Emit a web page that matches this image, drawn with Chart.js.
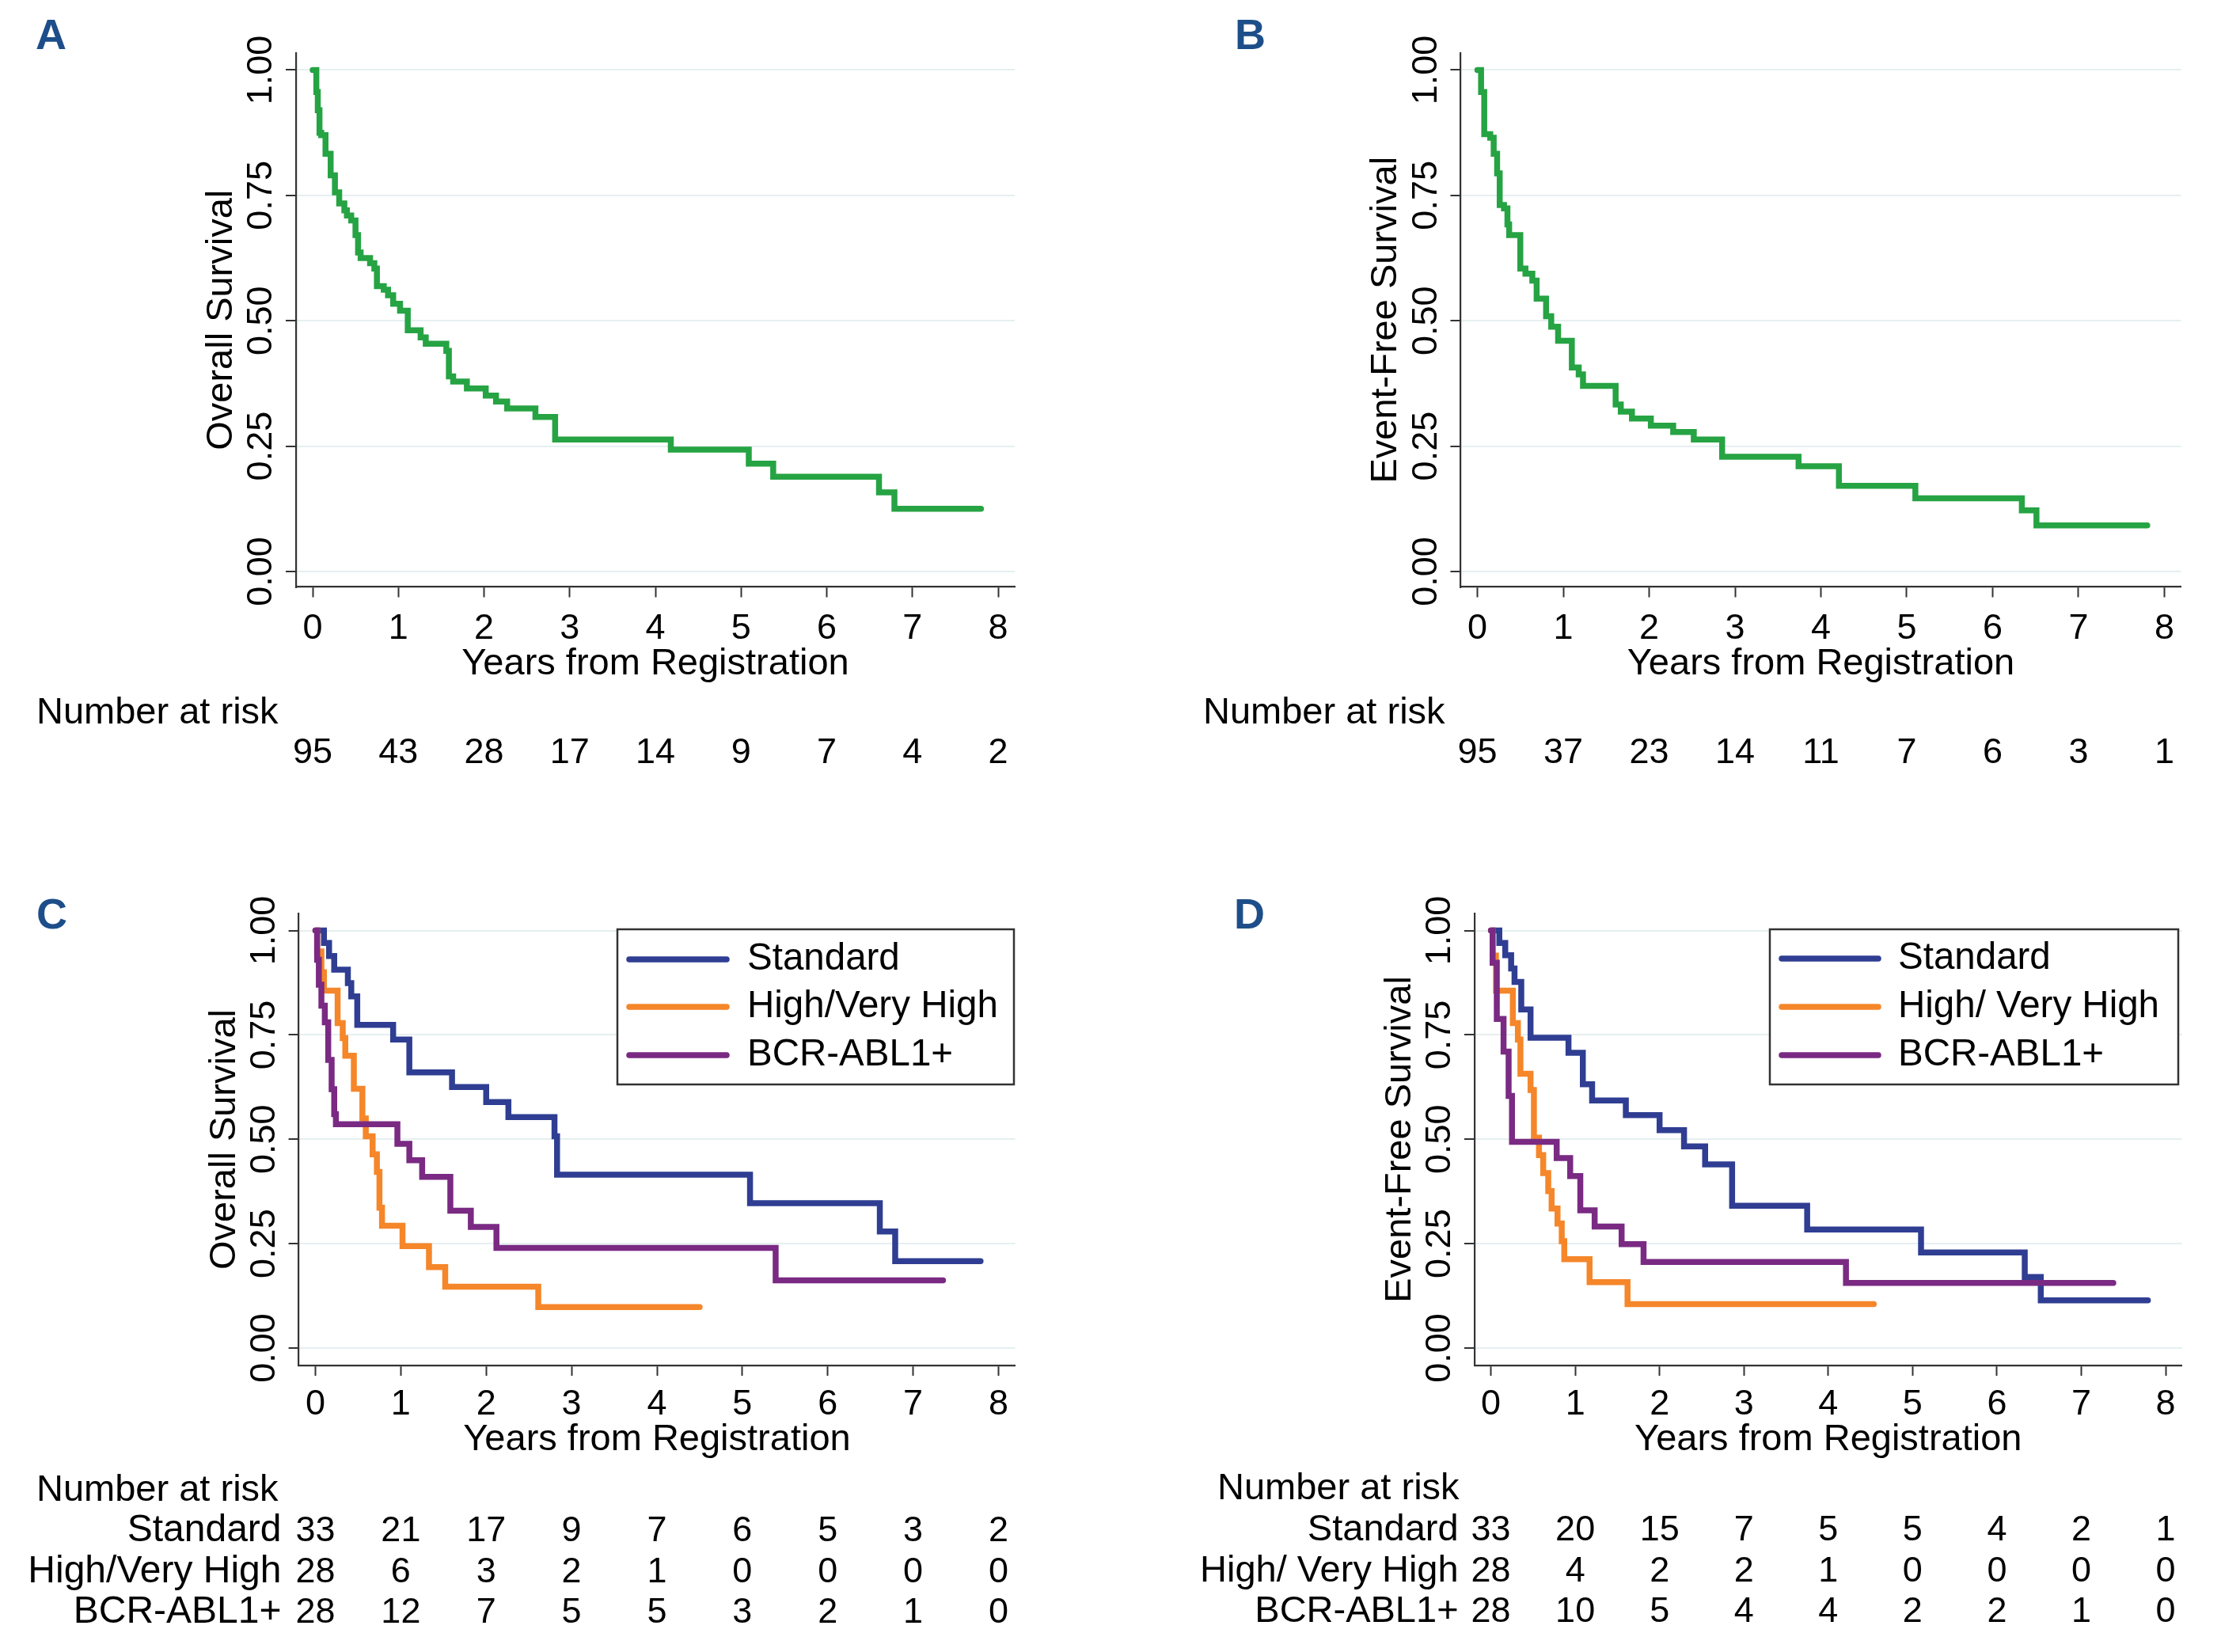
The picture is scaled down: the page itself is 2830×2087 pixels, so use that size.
<!DOCTYPE html>
<html><head><meta charset="utf-8"><title>Kaplan-Meier curves</title>
<script src="https://cdn.jsdelivr.net/npm/chart.js@4.4.1/dist/chart.umd.min.js"></script>
<style>
html,body{margin:0;padding:0;background:#fff}
body{width:2830px;height:2087px;position:relative;overflow:hidden}
canvas{position:absolute}
</style></head><body>
<canvas id="cA" width="1415" height="1080" style="left:0;top:0;width:1415px;height:1080px"></canvas>
<canvas id="cB" width="1415" height="1080" style="left:1415px;top:0;width:1415px;height:1080px"></canvas>
<canvas id="cC" width="1415" height="1007" style="left:0;top:1080px;width:1415px;height:1007px"></canvas>
<canvas id="cD" width="1415" height="1007" style="left:1415px;top:1080px;width:1415px;height:1007px"></canvas>
<script>
// ---------------- data ----------------
const xTickValues = [0, 1, 2, 3, 4, 5, 6, 7, 8];
const yTickValues = [0, 0.25, 0.5, 0.75, 1];
const riskTimes = [0, 1, 2, 3, 4, 5, 6, 7, 8];

// Panel A: overall survival, all patients
const timeA = [0, 0.043, 0.06, 0.08, 0.10, 0.15, 0.21, 0.26, 0.31, 0.37, 0.40, 0.45, 0.50, 0.53, 0.56, 0.67, 0.72, 0.75, 0.83, 0.88, 0.94, 1.02, 1.11, 1.26, 1.32, 1.56, 1.59, 1.64, 1.80, 2.02, 2.14, 2.27, 2.60, 2.83, 4.18, 5.09, 5.375, 6.61, 6.79, 7.80];
const survA = [1, 0.956, 0.92, 0.875, 0.870, 0.833, 0.790, 0.756, 0.734, 0.720, 0.710, 0.700, 0.671, 0.636, 0.625, 0.615, 0.604, 0.569, 0.562, 0.551, 0.534, 0.520, 0.481, 0.467, 0.454, 0.440, 0.389, 0.379, 0.365, 0.351, 0.339, 0.325, 0.308, 0.263, 0.243, 0.215, 0.189, 0.158, 0.125, 0.125];
const riskA = [95, 43, 28, 17, 14, 9, 7, 4, 2];

// Panel B: event-free survival, all patients
const timeB = [0, 0.043, 0.08, 0.15, 0.19, 0.23, 0.26, 0.31, 0.35, 0.37, 0.50, 0.56, 0.64, 0.69, 0.80, 0.86, 0.94, 1.10, 1.18, 1.23, 1.61, 1.67, 1.80, 2.02, 2.28, 2.52, 2.85, 3.74, 4.21, 5.10, 6.34, 6.51, 7.80];
const survB = [1, 0.956, 0.872, 0.865, 0.833, 0.794, 0.731, 0.724, 0.692, 0.671, 0.604, 0.594, 0.580, 0.544, 0.509, 0.488, 0.460, 0.407, 0.393, 0.370, 0.333, 0.319, 0.305, 0.291, 0.278, 0.263, 0.229, 0.210, 0.171, 0.146, 0.122, 0.092, 0.092];
const riskB = [95, 37, 23, 14, 11, 7, 6, 3, 1];

// Panel C: overall survival by risk group
const groupLabelsC = ['Standard', 'High/Very High', 'BCR-ABL1+'];
const timeCStd = [0, 0.10, 0.16, 0.22, 0.38, 0.42, 0.49, 0.91, 1.10, 1.60, 2.00, 2.26, 2.80, 2.83, 5.09, 6.61, 6.79, 7.79];
const survCStd = [1, 0.970, 0.939, 0.906, 0.874, 0.842, 0.774, 0.739, 0.660, 0.625, 0.589, 0.553, 0.507, 0.415, 0.347, 0.279, 0.208, 0.208];
const timeCHigh = [0, 0.02, 0.07, 0.10, 0.26, 0.32, 0.35, 0.45, 0.55, 0.59, 0.67, 0.72, 0.75, 0.78, 1.02, 1.33, 1.52, 2.61, 4.50];
const survCHigh = [1, 0.95, 0.90, 0.856, 0.778, 0.742, 0.700, 0.621, 0.550, 0.507, 0.464, 0.422, 0.336, 0.293, 0.244, 0.194, 0.147, 0.098, 0.098];
const timeCBcr = [0, 0.02, 0.04, 0.07, 0.11, 0.15, 0.19, 0.22, 0.24, 0.96, 1.10, 1.25, 1.58, 1.82, 2.12, 5.39, 7.35];
const survCBcr = [1, 0.93, 0.87, 0.82, 0.78, 0.69, 0.62, 0.56, 0.536, 0.489, 0.450, 0.410, 0.329, 0.290, 0.240, 0.162, 0.162];
const riskCStd = [33, 21, 17, 9, 7, 6, 5, 3, 2];
const riskCHigh = [28, 6, 3, 2, 1, 0, 0, 0, 0];
const riskCBcr = [28, 12, 7, 5, 5, 3, 2, 1, 0];

// Panel D: event-free survival by risk group
const groupLabelsD = ['Standard', 'High/ Very High', 'BCR-ABL1+'];
const timeDStd = [0, 0.10, 0.17, 0.24, 0.28, 0.36, 0.47, 0.92, 1.09, 1.20, 1.60, 2.00, 2.29, 2.54, 2.86, 3.75, 5.10, 6.33, 6.52, 7.79];
const survDStd = [1, 0.970, 0.941, 0.909, 0.877, 0.811, 0.743, 0.707, 0.632, 0.593, 0.558, 0.522, 0.483, 0.440, 0.341, 0.284, 0.229, 0.170, 0.114, 0.114];
const timeDHigh = [0, 0.02, 0.06, 0.26, 0.32, 0.35, 0.47, 0.51, 0.57, 0.62, 0.68, 0.72, 0.79, 0.84, 0.87, 1.17, 1.62, 4.54];
const survDHigh = [1, 0.94, 0.856, 0.778, 0.739, 0.657, 0.618, 0.504, 0.462, 0.419, 0.376, 0.334, 0.298, 0.256, 0.213, 0.158, 0.105, 0.105];
const timeDBcr = [0, 0.02, 0.07, 0.15, 0.21, 0.25, 0.78, 0.94, 1.06, 1.23, 1.55, 1.81, 4.21, 7.38];
const survDBcr = [1, 0.923, 0.788, 0.710, 0.604, 0.494, 0.455, 0.412, 0.330, 0.291, 0.249, 0.206, 0.156, 0.156];
const riskDStd = [33, 20, 15, 7, 5, 5, 4, 2, 1];
const riskDHigh = [28, 4, 2, 2, 1, 0, 0, 0, 0];
const riskDBcr = [28, 10, 5, 4, 4, 2, 2, 1, 0];

// ---------------- styling ----------------
const FONT = '"Liberation Sans", Arial, Helvetica, sans-serif';
const GREEN = '#26a343', BLUE = '#2f3e92', ORANGE = '#f5862a', PURPLE = '#7a2a83';
Chart.defaults.font.family = FONT;
Chart.defaults.color = '#000';

const annotPlugin = {
  id: 'annot',
  afterDraw(chart, args, o) {
    const ctx = chart.ctx, xs = chart.scales.x;
    ctx.save();
    ctx.textBaseline = 'alphabetic';
    ctx.textAlign = 'left';
    ctx.fillStyle = '#1d4e89';
    ctx.font = 'bold 54px ' + FONT;
    ctx.fillText(o.letter, o.letterX, o.letterY);
    ctx.fillStyle = '#000';
    ctx.font = '47px ' + FONT;
    ctx.fillText('Number at risk', o.nrX, o.nrY);
    o.rows.forEach((row, r) => {
      const y = o.rowY[r];
      if (row.label) {
        ctx.font = o.labelSize + 'px ' + FONT; ctx.textAlign = 'right';
        ctx.fillText(row.label, xs.getPixelForValue(0) - o.labelGap, y);
      }
      ctx.font = '45px ' + FONT; ctx.textAlign = 'center';
      row.values.forEach((v, i) => ctx.fillText(String(v), xs.getPixelForValue(riskTimes[i]), y));
    });
    if (o.legend) {
      const L = o.legend;
      ctx.fillStyle = '#fff';
      ctx.fillRect(L.x, L.y, L.w, L.h);
      ctx.strokeStyle = '#333'; ctx.lineWidth = 2.5;
      ctx.strokeRect(L.x, L.y, L.w, L.h);
      chart.data.datasets.forEach((ds, i) => {
        const y = L.rowY[i];
        ctx.strokeStyle = ds.borderColor; ctx.lineWidth = 7.5; ctx.lineCap = 'round';
        ctx.beginPath(); ctx.moveTo(L.lx1, y); ctx.lineTo(L.lx2, y); ctx.stroke();
        ctx.fillStyle = '#000'; ctx.font = '47.5px ' + FONT;
        ctx.textAlign = 'left'; ctx.textBaseline = 'middle';
        ctx.fillText(ds.label, L.tx, y);
      });
    }
    ctx.restore();
  }
};

const XMIN = -0.194, XMAX = 8.194;

function makeKM(id, cfg) {
  const YW = 150;
  const c = document.getElementById(id);
  const W = c.width, H = c.height;
  const pp = (cfg.x8 - cfg.x0) / 8;
  const left = cfg.x0 + XMIN * pp, right = cfg.x8 + (XMAX - 8) * pp;
  return new Chart(c, {
    type: 'line',
    data: {
      datasets: cfg.series.map(s => ({
        label: s.label,
        data: s.t.map((t, i) => ({ x: t, y: s.s[i] })),
        borderColor: s.color, backgroundColor: s.color, borderWidth: 7.5,
        pointRadius: 0, pointHoverRadius: 0, stepped: 'before', fill: false,
        borderCapStyle: 'round', borderJoinStyle: 'miter', order: s.order
      }))
    },
    options: {
      responsive: false, animation: false, devicePixelRatio: 1, events: [],
      layout: { padding: { left: left - YW, right: W - right, top: cfg.top, bottom: H - cfg.bottom - cfg.xh } },
      plugins: { legend: { display: false }, tooltip: { enabled: false }, annot: cfg.annot },
      scales: {
        x: {
          type: 'linear', min: XMIN, max: XMAX,
          afterBuildTicks: s => { s.ticks = xTickValues.map(v => ({ value: v })); },
          afterFit: s => { s.height = cfg.xh; },
          grid: { display: true, drawOnChartArea: false, drawTicks: true, tickLength: 13, tickColor: '#333', tickWidth: 2 },
          border: { display: true, color: '#333', width: 2.2 },
          ticks: { autoSkip: false, maxRotation: 0, minRotation: 0, padding: cfg.tickPad, font: { size: 45 }, color: '#000', callback: v => String(v) },
          title: { display: true, text: 'Years from Registration', font: { size: 47 }, color: '#000', padding: 0 }
        },
        y: {
          type: 'linear', min: cfg.ymin, max: cfg.ymax,
          afterBuildTicks: s => { s.ticks = yTickValues.map(v => ({ value: v })); },
          afterFit: s => { s.width = YW; },
          grid: { display: true, drawOnChartArea: true, color: '#e6eff0', lineWidth: 2, drawTicks: true, tickLength: 13, tickColor: '#333', tickWidth: 2 },
          border: { display: true, color: '#333', width: 2.2 },
          ticks: { minRotation: 90, maxRotation: 90, crossAlign: 'center', padding: -13.8, font: { size: 45 }, color: '#000', callback: v => v.toFixed(2) },
          title: { display: true, text: cfg.ytitle, font: { size: 47 }, color: '#000', padding: { top: 27.8, bottom: 0 } }
        }
      }
    },
    plugins: [annotPlugin]
  });
}

makeKM('cA', {
  x0: 395, x8: 1261, top: 67, bottom: 741.5, xh: 125.4, tickPad: 12.9, ymin: -0.0308, ymax: 1.0339,
  ytitle: 'Overall Survival',
  series: [{ label: 'All', t: timeA, s: survA, color: GREEN, order: 0 }],
  annot: { letter: 'A', letterX: 45, letterY: 62, nrX: 46, nrY: 914, rowY: [964], labelGap: 43, labelSize: 48,
           rows: [{ label: '', values: riskA }] }
});
makeKM('cB', {
  x0: 451.5, x8: 1319.5, top: 67, bottom: 741.5, xh: 125.4, tickPad: 12.9, ymin: -0.0308, ymax: 1.0339,
  ytitle: 'Event-Free Survival',
  series: [{ label: 'All', t: timeB, s: survB, color: GREEN, order: 0 }],
  annot: { letter: 'B', letterX: 145, letterY: 62, nrX: 105, nrY: 914, rowY: [964], labelGap: 43, labelSize: 48,
           rows: [{ label: '', values: riskB }] }
});
makeKM('cC', {
  x0: 398.5, x8: 1261.5, top: 74, bottom: 645, xh: 122.4, tickPad: 9.4, ymin: -0.0417, ymax: 1.0408,
  ytitle: 'Overall Survival',
  series: [
    { label: groupLabelsC[0], t: timeCStd, s: survCStd, color: BLUE, order: 2 },
    { label: groupLabelsC[1], t: timeCHigh, s: survCHigh, color: ORANGE, order: 1 },
    { label: groupLabelsC[2], t: timeCBcr, s: survCBcr, color: PURPLE, order: 0 }
  ],
  annot: { letter: 'C', letterX: 46, letterY: 93, nrX: 46, nrY: 816, rowY: [867, 918.5, 970], labelGap: 43, labelSize: 48,
           rows: [{ label: groupLabelsC[0], values: riskCStd }, { label: groupLabelsC[1], values: riskCHigh }, { label: groupLabelsC[2], values: riskCBcr }],
           legend: { x: 780, y: 94, w: 501, h: 196, lx1: 795, lx2: 918, tx: 944, rowY: [132, 192, 253] } }
});
makeKM('cD', {
  x0: 468.6, x8: 1321, top: 74, bottom: 645, xh: 122.4, tickPad: 9.4, ymin: -0.0417, ymax: 1.0408,
  ytitle: 'Event-Free Survival',
  series: [
    { label: groupLabelsD[0], t: timeDStd, s: survDStd, color: BLUE, order: 2 },
    { label: groupLabelsD[1], t: timeDHigh, s: survDHigh, color: ORANGE, order: 1 },
    { label: groupLabelsD[2], t: timeDBcr, s: survDBcr, color: PURPLE, order: 0 }
  ],
  annot: { letter: 'D', letterX: 144, letterY: 93, nrX: 123, nrY: 814, rowY: [866, 917.5, 969], labelGap: 41, labelSize: 47,
           rows: [{ label: groupLabelsD[0], values: riskDStd }, { label: groupLabelsD[1], values: riskDHigh }, { label: groupLabelsD[2], values: riskDBcr }],
           legend: { x: 821, y: 94, w: 516, h: 196, lx1: 836, lx2: 958, tx: 983, rowY: [131, 192, 253] } }
});
</script>
</body></html>
